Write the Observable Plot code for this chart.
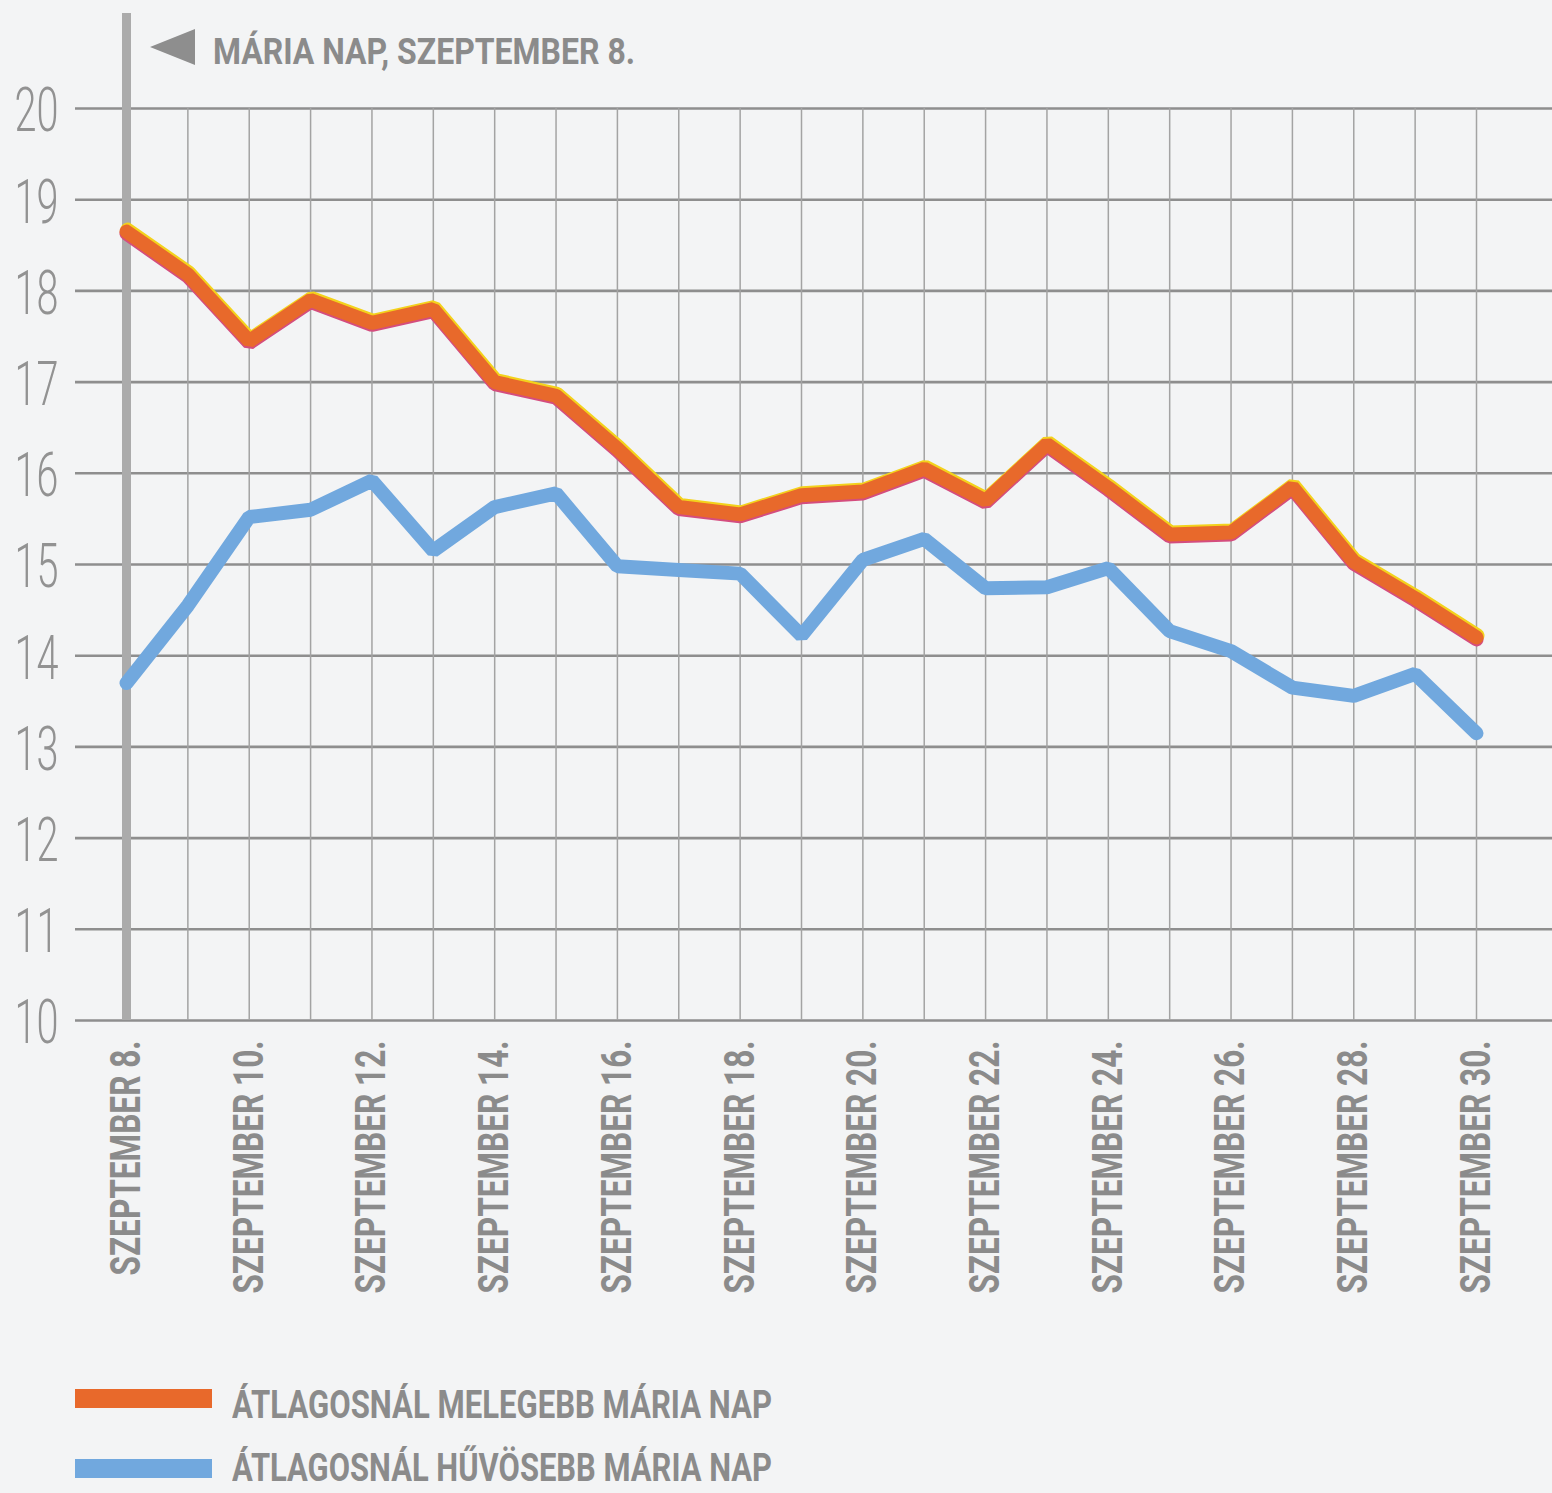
<!DOCTYPE html>
<html>
<head>
<meta charset="utf-8">
<script src="https://cdn.jsdelivr.net/npm/d3@7"></script>
<script src="https://cdn.jsdelivr.net/npm/@observablehq/plot@0.6"></script>
<style>
  html, body { margin: 0; padding: 0; background: #f3f4f5; }
  #wrap { position: relative; width: 1552px; height: 1493px; overflow: hidden; font-family: Roboto, "Noto Sans", sans-serif; }
  #chart { position: absolute; left: 0; top: 0; }
  .sq { position: absolute; white-space: nowrap; font-weight: 700; color: #8b8b8b; line-height: 1; transform-origin: 0 0; }
  .leg { line-height: 0.84; }
  .tri { position: absolute; left: 150px; top: 29px; width: 0; height: 0;
         border-top: 18px solid transparent; border-bottom: 18px solid transparent; border-right: 45px solid #8e8e8e; }
  .sw { position: absolute; left: 75px; width: 137px; height: 19px; }
</style>
</head>
<body>
<div id="wrap">
  <div id="chart"></div>
  <div class="tri"></div>
  <div class="sq" id="title" style="left:213px; top:33px; font-size:37px;"></div>
  <div id="legend"></div>
</div>
<script>
// ---- data ----
const days = [8, 9, 10, 11, 12, 13, 14, 15, 16, 17, 18, 19, 20, 21, 22, 23, 24, 25, 26, 27, 28, 29, 30];
const warm = [18.65, 18.18, 17.45, 17.9, 17.65, 17.8, 17.0, 16.85, 16.27, 15.63, 15.55, 15.76, 15.8, 16.05, 15.7, 16.32, 15.84, 15.33, 15.35, 15.85, 15.03, 14.63, 14.2];
const cool = [13.7, 14.55, 15.52, 15.6, 15.92, 15.15, 15.63, 15.78, 14.98, 14.94, 14.9, 14.22, 15.05, 15.28, 14.74, 14.75, 14.96, 14.27, 14.05, 13.65, 13.56, 13.8, 13.15];
const yTicks = [10, 11, 12, 13, 14, 15, 16, 17, 18, 19, 20];
const xTicks = [8, 10, 12, 14, 16, 18, 20, 22, 24, 26, 28, 30];
const monthName = "SZEPTEMBER";
const titleText = "MÁRIA NAP, SZEPTEMBER 8.";
const seriesNames = ["ÁTLAGOSNÁL MELEGEBB MÁRIA NAP", "ÁTLAGOSNÁL HŰVÖSEBB MÁRIA NAP"];
const seriesColors = ["#e8692b", "#71a8de"];

const warmRows = days.map((d, i) => ({day: d, t: warm[i]}));
const coolRows = days.map((d, i) => ({day: d, t: cool[i]}));

const chart = Plot.plot({
  width: 1552,
  height: 1330,
  marginTop: 108,
  marginBottom: 310,
  marginLeft: 75,
  marginRight: 0,
  style: {background: "transparent", fontFamily: "Roboto, 'Noto Sans', sans-serif", overflow: "visible"},
  x: {type: "linear", domain: [8, 30], range: [126, 1476], label: null},
  y: {domain: [10, 20], range: [1020, 108], label: null},
  marks: [
    Plot.ruleY(yTicks, {stroke: "#8e8e8e", strokeWidth: 2.6}),
    Plot.ruleX(days.slice(1), {stroke: "#a3a3a3", strokeWidth: 1.5}),
    Plot.ruleX([days[0]], {stroke: "#ababab", strokeWidth: 9, insetTop: -95}),
    Plot.line(warmRows, {x: "day", y: "t", stroke: "#f3d21c", strokeWidth: 14, dy: -2, dx: 1, strokeLinejoin: "miter"}),
    Plot.line(warmRows, {x: "day", y: "t", stroke: "#d44d7e", strokeWidth: 14, dy: 2, strokeLinejoin: "miter"}),
    Plot.line(warmRows, {x: "day", y: "t", stroke: seriesColors[0], strokeWidth: 14, strokeLinejoin: "miter"}),
    Plot.line(coolRows, {x: "day", y: "t", stroke: seriesColors[1], strokeWidth: 14, strokeLinejoin: "miter"}),
    Plot.axisY(yTicks, {tickSize: 0, tickPadding: 17, fontSize: 62, fontWeight: 300, color: "#929292", fill: "#929292", dy: 3,
      label: null, tickFormat: d => String(d)}),
    Plot.axisX(xTicks, {tickSize: 0, tickPadding: 20, tickRotate: -90, fontSize: 42, fontWeight: 700,
      color: "#8b8b8b", fill: "#8b8b8b", label: null, tickFormat: d => `${monthName} ${d}.`})
  ]
});
document.getElementById("chart").append(chart);

// title & legend (HTML)
document.getElementById("title").textContent = titleText;
const legend = document.getElementById("legend");
const legendTops = [1390, 1453];
const swTops = [1389, 1459];
seriesNames.forEach((name, i) => {
  const sw = document.createElement("div");
  sw.className = "sw";
  sw.style.top = swTops[i] + "px";
  sw.style.background = seriesColors[i];
  legend.append(sw);
  const t = document.createElement("div");
  t.className = "sq leg";
  t.style.left = "232px";
  t.style.top = legendTops[i] + "px";
  t.style.fontSize = "38px";
  t.textContent = name;
  legend.append(t);
});

function squeezeAll() {
  // condensed look: compress glyphs to the reference widths
  const texts = Array.from(chart.querySelectorAll("text"));
  const xs = texts.filter(t => t.textContent.startsWith(monthName));
  const ys = texts.filter(t => /^\d+$/.test(t.textContent.trim()));
  if (xs.length) {
    xs.forEach(t => { t.removeAttribute("textLength"); });
    const f = 235 / xs[0].getComputedTextLength();
    xs.forEach(t => {
      t.setAttribute("textLength", (t.getComputedTextLength() * f).toFixed(1));
      t.setAttribute("lengthAdjust", "spacingAndGlyphs");
    });
  }
  if (ys.length) {
    ys.forEach(t => { t.removeAttribute("textLength"); });
    const ref = ys.find(t => t.textContent.trim() === "20") || ys[0];
    const f = 44 / ref.getComputedTextLength();
    ys.forEach(t => {
      t.setAttribute("textLength", (t.getComputedTextLength() * f).toFixed(1));
      t.setAttribute("lengthAdjust", "spacingAndGlyphs");
    });
  }
  const title = document.getElementById("title");
  title.style.transform = "none";
  title.style.transform = `scaleX(${422 / title.getBoundingClientRect().width})`;
  document.querySelectorAll(".leg").forEach(el => {
    el.style.transform = "none";
    el.style.transform = `scaleX(${540 / el.getBoundingClientRect().width})`;
  });
}
squeezeAll();
if (document.fonts && document.fonts.ready) document.fonts.ready.then(squeezeAll);
</script>
</body>
</html>
